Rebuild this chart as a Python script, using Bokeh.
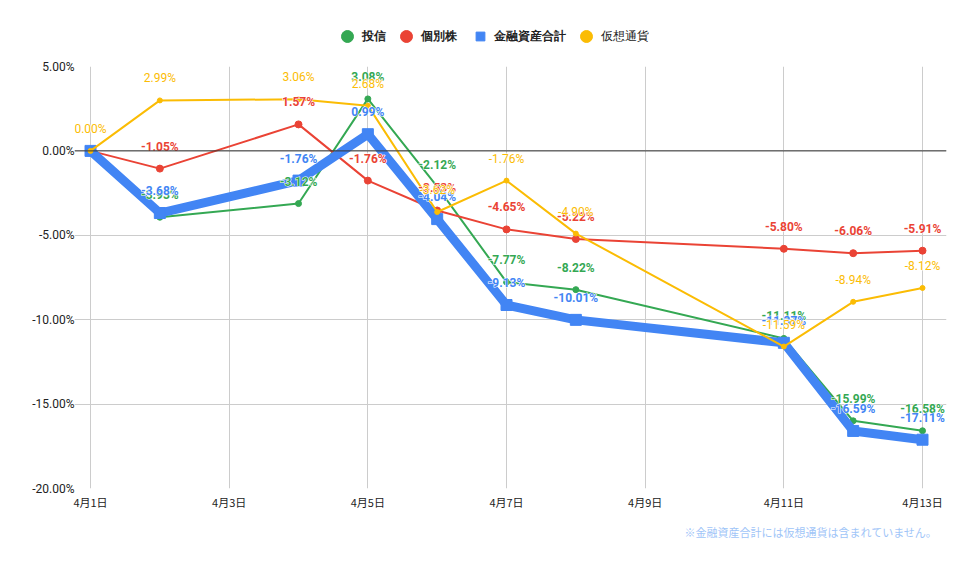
from bokeh.plotting import figure
from bokeh.layouts import column
from bokeh.models import (ColumnDataSource, Legend, LegendItem, Span, FixedTicker,
                          PrintfTickFormatter, Title, Range1d)
from bokeh.core.properties import value
from bokeh.embed import file_html
from bokeh.resources import INLINE

# 騰落率 (%) 4月1日基準
days = [1, 2, 4, 5, 6, 7, 8, 11, 12, 13]
fund = [0.00, -3.93, -3.12, 3.08, -2.12, -7.77, -8.22, -11.11, -15.99, -16.58]
stock = [0.00, -1.05, 1.57, -1.76, -3.53, -4.65, -5.22, -5.80, -6.06, -5.91]
total = [0.00, -3.68, -1.76, 0.99, -4.04, -9.13, -10.01, -11.37, -16.59, -17.11]
crypto = [0.00, 2.99, 3.06, 2.68, -3.62, -1.76, -4.90, -11.59, -8.94, -8.12]

x_ticks = [1, 3, 5, 7, 9, 11, 13]
x_labels = ["4月1日", "4月3日", "4月5日", "4月7日", "4月9日", "4月11日", "4月13日"]
y_ticks = [-20, -15, -10, -5, 0, 5]
note = "※金融資産合計には仮想通貨は含まれていません。"

GREEN = "#34a853"
RED = "#ea4335"
BLUE = "#4285f4"
YELLOW = "#fbbc04"
FONT = "Roboto"


def make_source(vals, show_first=False):
    labels = ["%.2f%%" % v for v in vals]
    if not show_first:
        labels[0] = ""   # hidden in the original (overlaps at the origin)
    return ColumnDataSource(data=dict(x=days, y=vals, label=labels))


# frame is a bit wider than the grid area so point labels at the ends are not clipped
p = figure(width=952, height=505,
           x_range=(0.769, 13.346), y_range=(-20, 5),
           toolbar_location=None, tools="",
           min_border_left=74, min_border_right=6,
           min_border_top=10, min_border_bottom=73,
           outline_line_color=None,
           background_fill_color="white",
           output_backend="svg")

p.xgrid.ticker = FixedTicker(ticks=x_ticks)
p.xgrid.grid_line_color = "#cccccc"
p.ygrid.grid_line_color = "#cccccc"

p.xaxis.ticker = FixedTicker(ticks=x_ticks)
p.xaxis.major_label_overrides = {t: l for t, l in zip(x_ticks, x_labels)}
p.yaxis.ticker = FixedTicker(ticks=y_ticks)
p.yaxis.formatter = PrintfTickFormatter(format="%.2f%%")

for ax in (p.xaxis, p.yaxis):
    ax.axis_line_color = None
    ax.major_tick_line_color = None
    ax.minor_tick_line_color = None
    ax.major_tick_out = 0
    ax.major_label_text_color = "#222222"

p.xaxis.major_label_text_font = "Noto Sans CJK JP"
p.xaxis.major_label_text_font_size = "11px"
p.xaxis.major_label_standoff = 5
p.yaxis.major_label_text_font = FONT
p.yaxis.major_label_text_font_size = "12px"
p.yaxis.major_label_standoff = 0

p.add_layout(Span(location=0, dimension="width", line_color="#333333", line_width=1))

src_fund = make_source(fund)
src_stock = make_source(stock)
src_total = make_source(total)
src_crypto = make_source(crypto, show_first=True)

p.line("x", "y", source=src_fund, line_color=GREEN, line_width=2)
p.scatter("x", "y", source=src_fund, marker="circle", size=6, color=GREEN)
p.line("x", "y", source=src_stock, line_color=RED, line_width=2)
p.scatter("x", "y", source=src_stock, marker="circle", size=7, color=RED)
p.line("x", "y", source=src_total, line_color=BLUE, line_width=9, line_join="round")
p.scatter("x", "y", source=src_total, marker="square", size=11, color=BLUE)
p.line("x", "y", source=src_crypto, line_color=YELLOW, line_width=2)
p.scatter("x", "y", source=src_crypto, marker="circle", size=5, color=YELLOW)

# point labels: a white halo underneath, then the coloured text
for src, col, style in [(src_fund, GREEN, "bold"), (src_stock, RED, "bold"),
                        (src_total, BLUE, "bold"), (src_crypto, YELLOW, "normal")]:
    common = dict(source=src, text_align="center", text_baseline="middle",
                  y_offset=-22, text_font=value(FONT), text_font_size="12px",
                  text_font_style=style)
    p.text("x", "y", text="label", text_color="white",
           text_outline_color="white", **common)
    p.text("x", "y", text="label", text_color=col, **common)

p.add_layout(Title(text=note, align="right", text_color="#9fc5f8",
                   text_font="Noto Sans CJK JP", text_font_size="11px",
                   text_font_style="normal", standoff=18, offset=9), "below")

# legend strip above the chart (dummy glyphs sit outside its range)
lf = figure(width=952, height=56, toolbar_location=None, tools="",
            x_range=Range1d(0, 1), y_range=Range1d(0, 1),
            min_border=0, outline_line_color=None, output_backend="svg")
lf.axis.visible = False
lf.grid.visible = False


def legend_item(label, marker, color, x, box, standoff, style):
    r = lf.scatter(x=[-5], y=[-5], marker=marker, size=10, color=color)
    lg = Legend(items=[LegendItem(label=label, renderers=[r])], location=(x, 5),
                glyph_width=box, glyph_height=box, label_height=30,
                label_standoff=standoff, padding=0, margin=0,
                border_line_color=None, background_fill_alpha=0,
                label_text_font=FONT, label_text_font_size="12px",
                label_text_font_style=style, label_text_color="#222222")
    lf.add_layout(lg)


legend_item("投信", "circle", GREEN, 258, 30, 0, "bold")
legend_item("個別株", "circle", RED, 317, 30, 0, "bold")
legend_item("金融資産合計", "square", BLUE, 395, 22, 3, "bold")
legend_item("仮想通貨", "circle", YELLOW, 497, 30, 0, "normal")

layout = column(lf, p, spacing=0)
open("out.html", "w").write(file_html(layout, INLINE))
